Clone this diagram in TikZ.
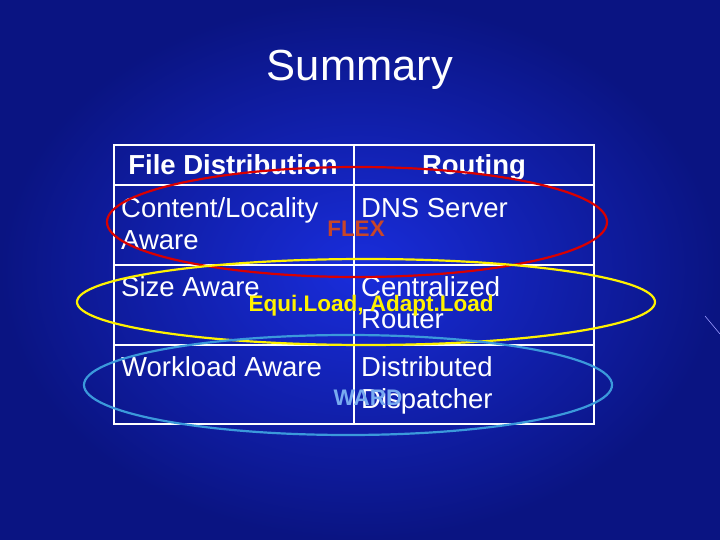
\documentclass[tikz,border=0pt]{standalone}
\usepackage{fontspec}
\setmainfont{Liberation Sans}
\begin{document}
\begin{tikzpicture}[x=1pt,y=-1pt,
  cell/.style={anchor=base west,text=white,font=\fontsize{27.5}{27.5}\selectfont,inner sep=0},
  hdr/.style={anchor=base,text=white,font=\bfseries\fontsize{27.5}{27.5}\selectfont,inner sep=0},
  lab/.style={font=\bfseries\fontsize{22.5}{22.5}\selectfont,inner sep=0},
  grid/.style={draw=white,line width=1.6pt}]
\useasboundingbox (0,0) rectangle (720,540);
\shade[inner color={rgb,255:red,25;green,45;blue,220},outer color={rgb,255:red,10;green,20;blue,130}] (0,0) rectangle (720,540);
\draw[white!60!blue,line width=0.6pt] (705,316) -- (720,334);
\node[text=white,font=\fontsize{43.5}{43.5}\selectfont] (title) at (360,70) {Summary};
% table
\draw[grid] (114,145) rectangle (594,424);
\draw[grid] (354,145) -- (354,424);
\draw[grid] (114,185) -- (594,185);
\draw[grid] (114,265) -- (594,265);
\draw[grid] (114,345) -- (594,345);
\node[hdr] (h1) at (233,175) {File Distribution};
\node[hdr] (h2) at (474,175) {Routing};
\node[cell] (a1) at (121,218) {Content/Locality};
\node[cell] (a2) at (121,249) {Aware};
\node[cell] (b1) at (361,218) {DNS Server};
\node[cell] (c1) at (121,296) {Size Aware};
\node[cell] (d1) at (361,296) {Centralized};
\node[cell] (d2) at (361,328) {Router};
\node[cell] (e1) at (121,376) {Workload Aware};
\node[cell] (f1) at (361,376) {Distributed};
\node[cell] (f2) at (361,408) {Dispatcher};
% ellipses
\draw[red!85!black,line width=2.2pt] (357,222) ellipse [x radius=250,y radius=55];
\draw[yellow,line width=2.2pt] (366,302) ellipse [x radius=289,y radius=43];
\draw[cyan!70!blue!80!white,line width=2.2pt] (348,385) ellipse [x radius=264,y radius=50];
\node[lab,text={rgb,255:red,200;green,70;blue,40}] (flex) at (356,229) {FLEX};
\node[lab,text=yellow] (eq) at (371,306) {Equi.Load, Adapt.Load};
\node[lab,text={rgb,255:red,120;green,170;blue,240}] (ward) at (368,398) {WARD};
\end{tikzpicture}
\end{document}
